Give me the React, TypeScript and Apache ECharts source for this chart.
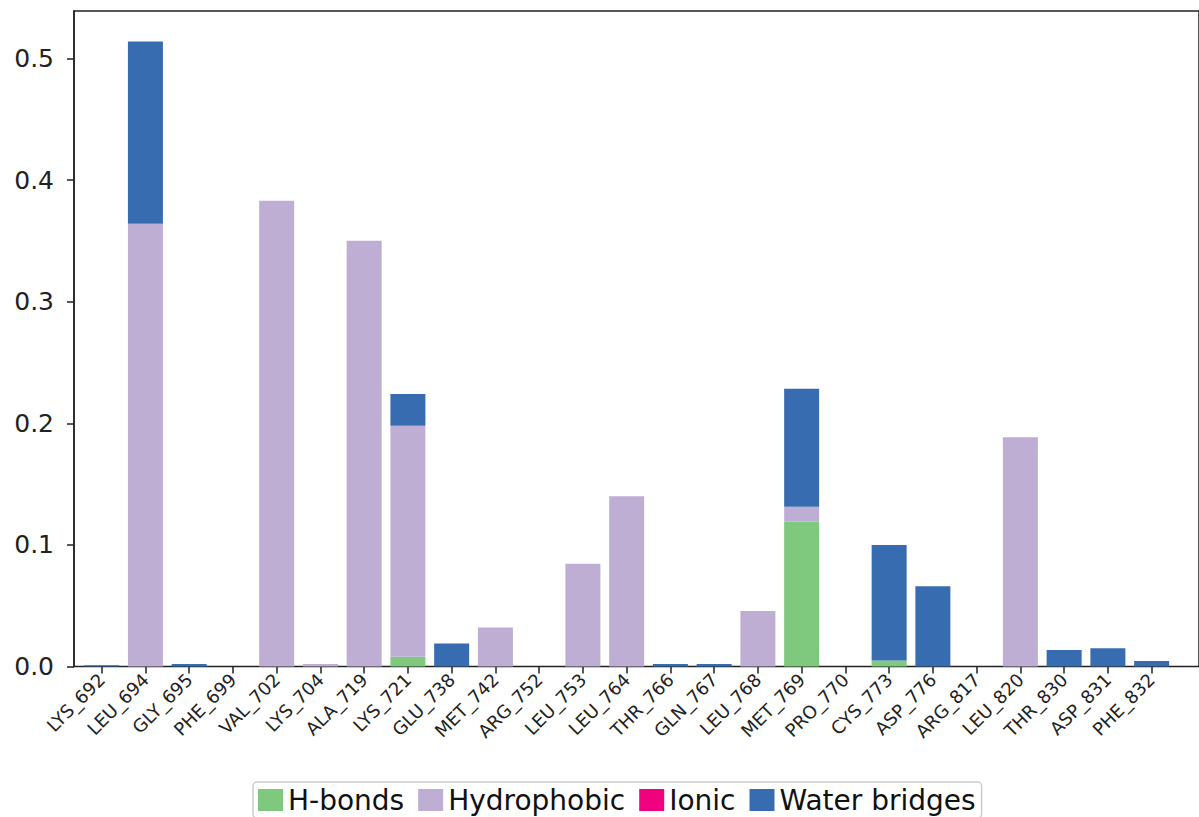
import React, { useEffect, useRef } from "react";
import * as echarts from "echarts";

const categories = [
  "LYS_692", "LEU_694", "GLY_695", "PHE_699", "VAL_702", "LYS_704", "ALA_719",
  "LYS_721", "GLU_738", "MET_742", "ARG_752", "LEU_753", "LEU_764", "THR_766",
  "GLN_767", "LEU_768", "MET_769", "PRO_770", "CYS_773", "ASP_776", "ARG_817",
  "LEU_820", "THR_830", "ASP_831", "PHE_832",
];

const hBonds = [
  0, 0, 0, 0, 0, 0, 0, 0.008, 0, 0, 0, 0, 0, 0, 0, 0, 0.119, 0, 0.005, 0, 0, 0, 0, 0, 0,
];
const hydrophobic = [
  0, 0.364, 0, 0, 0.383, 0.002, 0.35, 0.19, 0, 0.032, 0, 0.0845, 0.14, 0, 0, 0.0456,
  0.0123, 0, 0, 0, 0, 0.1886, 0, 0, 0,
];
const ionic = [
  0, 0, 0, 0, 0, 0, 0, 0, 0, 0, 0, 0, 0, 0, 0, 0, 0, 0, 0, 0, 0, 0, 0, 0, 0,
];
const waterBridges = [
  0.001, 0.15, 0.002, 0, 0, 0, 0, 0.026, 0.019, 0, 0, 0, 0, 0.002, 0.002, 0, 0.097, 0,
  0.095, 0.066, 0, 0, 0.0136, 0.015, 0.0045,
];

const yTicks = [0, 0.1, 0.2, 0.3, 0.4, 0.5];

const seriesDefs = [
  { name: "H-bonds", data: hBonds, color: "#7fc97f" },
  { name: "Hydrophobic", data: hydrophobic, color: "#beaed4" },
  { name: "Ionic", data: ionic, color: "#f0027f" },
  { name: "Water bridges", data: waterBridges, color: "#386cb0" },
];

const Y_MAX = 0.539;

export default function App() {
  const ref = useRef<HTMLDivElement>(null);
  useEffect(() => {
    if (!ref.current) return;
    const chart = echarts.init(ref.current, null, { renderer: "svg" });
    chart.setOption({
      animation: false,
      backgroundColor: "#ffffff",
      textStyle: { fontFamily: "DejaVu Sans" },
      grid: [
        {
          left: 79.8,
          right: 25.5,
          top: 11,
          bottom: 150.5,
        },
        {
          left: 74,
          right: -20,
          top: 11,
          bottom: 150.5,
          show: true,
          borderColor: "#222",
          borderWidth: 1.5,
          backgroundColor: "transparent",
        },
      ],
      legend: {
        left: 253,
        top: 782,
        orient: "horizontal",
        icon: "rect",
        itemWidth: 25,
        itemHeight: 22,
        itemGap: 14,
        padding: [4, 6, 4, 5],
        borderColor: "#cccccc",
        borderWidth: 1.5,
        borderRadius: 4,
        backgroundColor: "#ffffff",
        textStyle: { fontSize: 28, color: "#111", fontFamily: "DejaVu Sans", padding: [0, 0, 0, 0] },
        data: seriesDefs.map((s) => s.name),
      },
      xAxis: [
        {
          type: "category",
          gridIndex: 0,
          data: categories,
          axisLine: { show: false },
          axisTick: {
            show: true,
            alignWithLabel: true,
            interval: 0,
            length: 7,
            lineStyle: { color: "#222", width: 1.5 },
          },
          axisLabel: {
            show: true,
            interval: 0,
            rotate: 45,
            fontSize: 18,
            color: "#222",
            margin: 10,
            fontFamily: "DejaVu Sans",
          },
        },
        {
          type: "value",
          gridIndex: 1,
          min: 0,
          max: 1,
          show: false,
        },
      ],
      yAxis: [
        {
          type: "value",
          gridIndex: 0,
          min: 0,
          max: Y_MAX,
          show: false,
        },
        {
          type: "value",
          gridIndex: 1,
          min: 0,
          max: Y_MAX,
          splitLine: { show: false },
          axisLine: { show: true, lineStyle: { color: "#222", width: 1.5 } },
          axisTick: {
            show: true,
            length: 7,
            customValues: yTicks,
            lineStyle: { color: "#222", width: 1.5 },
          },
          axisLabel: {
            customValues: yTicks,
            fontSize: 25,
            color: "#222",
            margin: 20,
            formatter: (v: number) => v.toFixed(1),
          },
        },
      ],
      series: seriesDefs.map((s) => ({
        name: s.name,
        type: "bar",
        xAxisIndex: 0,
        yAxisIndex: 0,
        stack: "total",
        barWidth: 35,
        itemStyle: { color: s.color },
        data: s.data,
      })),
    });

    return () => chart.dispose();
  }, []);
  return (
    <div
      ref={ref}
      style={{ position: "fixed", left: 0, top: 0, width: 1199, height: 817 }}
    />
  );
}
